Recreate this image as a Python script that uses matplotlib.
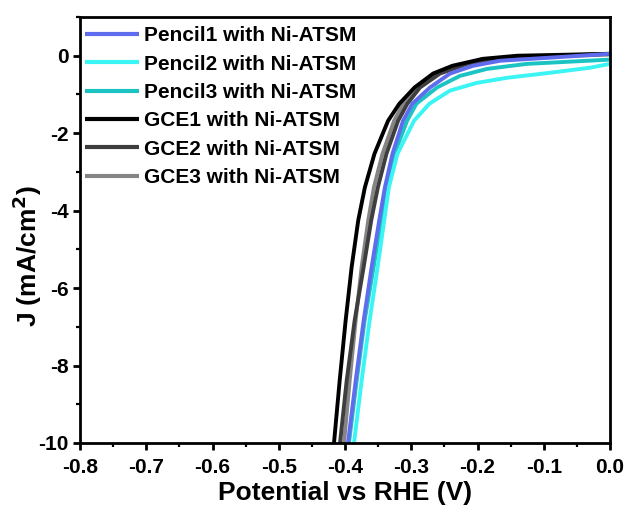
import matplotlib
matplotlib.use("Agg")
import matplotlib.pyplot as plt
from matplotlib.ticker import MultipleLocator

plt.rcParams['font.family'] = ['Liberation Sans', 'DejaVu Sans']
plt.rcParams['font.weight'] = 'bold'
plt.rcParams['axes.unicode_minus'] = False
plt.rcParams['mathtext.default'] = 'bf'

labels = ["Pencil1 with Ni-ATSM", "Pencil2 with Ni-ATSM", "Pencil3 with Ni-ATSM",
          "GCE1 with Ni-ATSM", "GCE2 with Ni-ATSM", "GCE3 with Ni-ATSM"]
colors = ["#5F6CEE", "#3BF4F4", "#1BC3C3", "#000000", "#3E3E3E", "#858585"]

pencil1_x = [-0.3955, -0.3838, -0.3718, -0.3598, -0.3483, -0.3398, -0.3283, -0.3124, -0.2984,
             -0.2717, -0.2415, -0.2068, -0.166, -0.0906, 0.0]
pencil1_j = [-10.0, -8.38, -6.83, -5.46, -4.25, -3.40, -2.53, -1.68, -1.24,
             -0.82, -0.46, -0.26, -0.13, -0.05, 0.05]

pencil2_x = [-0.3864, -0.3748, -0.3628, -0.3508, -0.3408, -0.3338, -0.3208, -0.2958, -0.2727,
             -0.2415, -0.2008, -0.1555, -0.0906, -0.0302, 0.0]
pencil2_j = [-10.0, -8.38, -6.83, -5.46, -4.25, -3.40, -2.53, -1.68, -1.24,
             -0.90, -0.70, -0.57, -0.44, -0.31, -0.21]

pencil3_x = [-0.394, -0.3823, -0.3703, -0.3568, -0.3453, -0.3368, -0.3253, -0.3063, -0.2923,
             -0.2611, -0.2264, -0.1857, -0.1253, 0.0]
pencil3_j = [-10.0, -8.38, -6.83, -5.46, -4.25, -3.40, -2.53, -1.68, -1.24,
             -0.82, -0.52, -0.34, -0.21, -0.10]

gce1_x = [-0.4166, -0.4080, -0.3990, -0.3900, -0.3800, -0.3700, -0.3555, -0.3350, -0.3180,
          -0.2950, -0.2670, -0.2380, -0.1920, -0.1400, 0.0]
gce1_j = [-10.0, -8.38, -6.83, -5.46, -4.25, -3.40, -2.53, -1.68, -1.24,
          -0.82, -0.46, -0.26, -0.08, 0.0, 0.05]

gce2_x = [-0.4075, -0.3974, -0.3854, -0.3719, -0.3604, -0.3504, -0.3374, -0.3199, -0.3059,
          -0.2868, -0.2566, -0.2158, -0.1555, 0.0]
gce2_j = [-10.0, -8.38, -6.83, -5.46, -4.25, -3.40, -2.53, -1.68, -1.24,
          -0.82, -0.46, -0.21, -0.05, 0.05]

gce3_x = [-0.4015, -0.3929, -0.3839, -0.3749, -0.3649, -0.3564, -0.3434, -0.3259, -0.3120,
          -0.2898, -0.2596, -0.2189, -0.1555, 0.0]
gce3_j = [-10.0, -8.38, -6.83, -5.46, -4.25, -3.40, -2.53, -1.68, -1.24,
          -0.82, -0.46, -0.21, -0.05, 0.03]

series = [(pencil1_x, pencil1_j), (pencil2_x, pencil2_j), (pencil3_x, pencil3_j),
          (gce1_x, gce1_j), (gce2_x, gce2_j), (gce3_x, gce3_j)]

fig = plt.figure(figsize=(6.26, 5.09), dpi=100)
ax = fig.add_axes([80/626, 66/509, 530/626, 426/509])

lines = {}
for (xs, js), lab, c in reversed(list(zip(series, labels, colors))):
    ln, = ax.plot(xs, js, color=c, lw=2.8, label=lab,
                  solid_joinstyle='round', solid_capstyle='butt')
    lines[lab] = ln

ax.set_xlim(-0.8, 0.0)
ax.set_ylim(-10, 1.0)
ax.xaxis.set_major_locator(MultipleLocator(0.1))
ax.xaxis.set_minor_locator(MultipleLocator(0.05))
ax.yaxis.set_major_locator(MultipleLocator(2))
ax.yaxis.set_minor_locator(MultipleLocator(1))

for s in ax.spines.values():
    s.set_linewidth(2.0)
ax.tick_params(which='major', direction='out', length=5, width=2.0, labelsize=15, pad=3)
ax.tick_params(axis='x', which='major', pad=5.5)
ax.tick_params(which='minor', direction='out', length=3, width=1.6)
for t in ax.get_xticklabels() + ax.get_yticklabels():
    t.set_fontweight('bold')

ax.set_xlabel("Potential vs RHE (V)", fontsize=19, fontweight='bold', labelpad=3.5)
ax.set_ylabel("J (mA/cm$^{2}$)", fontsize=19, fontweight='bold')
ax.yaxis.set_label_coords(-0.068, 0.44)

leg = ax.legend([lines[l] for l in labels], labels,
                loc='upper left', bbox_to_anchor=(0.001, 0.988), frameon=False,
                handlelength=2.6, handletextpad=0.25, labelspacing=0.45,
                borderaxespad=0.0, borderpad=0.2,
                prop={'weight': 'bold', 'size': 15})
for l in leg.get_lines():
    l.set_linewidth(3.0)

fig.savefig("out.png", dpi=100)
